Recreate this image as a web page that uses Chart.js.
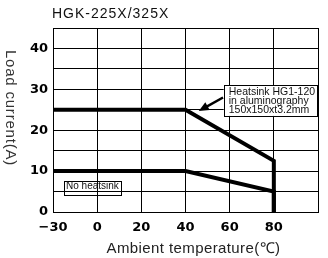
<!DOCTYPE html>
<html>
<head>
<meta charset="utf-8">
<script src="https://cdn.jsdelivr.net/npm/chart.js@4.4.0/dist/chart.umd.min.js"></script>
<style>
  html, body { margin: 0; padding: 0; background: #fff; }
  canvas { display: block; }
</style>
</head>
<body>
<canvas id="derating" width="328" height="258"></canvas>
<script>
// ── Data ──
// the left edge of the plot is labelled -30 on the original sheet, but sits one step (20) left of 0
const temps        = [-20, 40, 80, 80];
const curHeatsink  = [25, 25, 12.5, 0];
const curNoHeatsink = [10, 10, 5, 0];
const xTickLabels  = { '-20': '\u221230', '0': '0', '20': '20', '40': '40', '60': '60', '80': '80' };
const yTickLabels  = [0, 10, 20, 30, 40];

const title  = 'HGK-225X/325X';
const xTitle = 'Ambient temperature(\u2103)';
const yTitle = 'Load current(A)';
const heatsinkNote = ['Heatsink HG1-120', 'in aluminography', '150x150xt3.2mm'];
const noHeatsinkNote = 'No heatsink';

const toPoints = (xs, ys) => xs.map((x, i) => ({ x, y: ys[i] }));

// ── Text, notes and arrow ──
const decorations = {
  id: 'decorations',
  afterDraw(chart) {
    const { ctx, scales: { x, y }, chartArea: a } = chart;
    ctx.save();
    ctx.fillStyle = '#111';
    ctx.textBaseline = 'alphabetic';

    // title
    ctx.font = '14px "Liberation Sans", Arial, sans-serif';
    ctx.letterSpacing = '1px';
    ctx.textAlign = 'left';
    ctx.fillText(title, a.left - 1, 18);

    // x title
    ctx.font = '15px "Liberation Sans", Arial, sans-serif';
    ctx.letterSpacing = '0.4px';
    ctx.textAlign = 'center';
    ctx.fillStyle = '#222';
    ctx.fillText(xTitle, (a.left + a.right) / 2 + 8, 253);

    // y title, reading top to bottom
    ctx.save();
    ctx.translate(6, (a.top + a.bottom) / 2 - 12);
    ctx.rotate(Math.PI / 2);
    ctx.letterSpacing = '0.8px';
    ctx.fillStyle = '#333';
    ctx.fillText(yTitle, 0, 0);
    ctx.restore();
    ctx.letterSpacing = '0px';

    // heatsink note box
    const bx0 = x.getPixelForValue(57.3), bx1 = x.getPixelForValue(100) - 1;
    const by0 = y.getPixelForValue(31), by1 = y.getPixelForValue(23.5);
    ctx.fillStyle = '#fff';
    ctx.fillRect(bx0, by0, bx1 - bx0, by1 - by0);
    ctx.strokeStyle = '#000';
    ctx.lineWidth = 1;
    ctx.strokeRect(Math.round(bx0) + 0.5, Math.round(by0) + 0.5, Math.round(bx1 - bx0), Math.round(by1 - by0));
    ctx.fillStyle = '#111';
    ctx.font = '10.5px "Liberation Sans", Arial, sans-serif';
    ctx.textAlign = 'left';
    heatsinkNote.forEach((t, i) => ctx.fillText(t, bx0 + 5, by0 + 10 + i * 9));

    // arrow to the heatsink curve
    const ax0 = x.getPixelForValue(57), ay0 = y.getPixelForValue(28);
    const ax1 = x.getPixelForValue(46), ay1 = y.getPixelForValue(24.7);
    const ang = Math.atan2(ay1 - ay0, ax1 - ax0);
    ctx.strokeStyle = '#000';
    ctx.lineWidth = 2.5;
    ctx.beginPath();
    ctx.moveTo(ax0, ay0);
    ctx.lineTo(ax1 - 6 * Math.cos(ang), ay1 - 6 * Math.sin(ang));
    ctx.stroke();
    ctx.fillStyle = '#000';
    ctx.beginPath();
    ctx.moveTo(ax1, ay1);
    ctx.lineTo(ax1 - 10 * Math.cos(ang) + 4.5 * Math.sin(ang), ay1 - 10 * Math.sin(ang) - 4.5 * Math.cos(ang));
    ctx.lineTo(ax1 - 10 * Math.cos(ang) - 4.5 * Math.sin(ang), ay1 - 10 * Math.sin(ang) + 4.5 * Math.cos(ang));
    ctx.closePath();
    ctx.fill();

    // no heatsink note (open box)
    const nx0 = x.getPixelForValue(-15), nx1 = x.getPixelForValue(11);
    const ny0 = y.getPixelForValue(7.5), ny1 = y.getPixelForValue(4);
    ctx.lineWidth = 1;
    ctx.strokeRect(Math.round(nx0) + 0.5, Math.round(ny0) + 0.5, Math.round(nx1 - nx0), Math.round(ny1 - ny0));
    ctx.fillStyle = '#111';
    ctx.font = '10px "Liberation Sans", Arial, sans-serif';
    ctx.fillText(noHeatsinkNote, nx0 + 2, ny0 + 8);

    ctx.restore();
  }
};

const lineStyle = {
  borderColor: '#000',
  backgroundColor: '#000',
  borderWidth: 4,
  pointRadius: 0,
  tension: 0,
  fill: false,
  borderJoinStyle: 'miter',
};

const tickFont = { family: "'DejaVu Sans'", size: 13, weight: 'bold' };

new Chart(document.getElementById('derating'), {
  type: 'line',
  data: {
    datasets: [
      { label: 'Heatsink HG1-120', data: toPoints(temps, curHeatsink), ...lineStyle },
      { label: 'No heatsink', data: toPoints(temps, curNoHeatsink), ...lineStyle },
    ]
  },
  options: {
    responsive: false,
    animation: false,
    layout: { padding: { left: 0, right: 10, top: 28, bottom: 0 } },
    plugins: {
      legend: { display: false },
      tooltip: { enabled: false },
    },
    scales: {
      x: {
        type: 'linear',
        min: -20, max: 100,
        afterFit: s => { s.height = 46; },
        grid: { color: '#000', lineWidth: 1, drawTicks: false },
        border: { color: '#000', width: 1 },
        ticks: {
          stepSize: 20,
          padding: 8,
          color: '#000',
          maxRotation: 0,
          autoSkip: false,
          font: tickFont,
          callback: v => xTickLabels[String(v)] ?? '',
        }
      },
      y: {
        min: 0, max: 45,
        afterFit: s => { s.width = 53; },
        grid: { color: '#000', lineWidth: 1, drawTicks: false },
        border: { color: '#000', width: 1 },
        ticks: {
          stepSize: 5,
          padding: 5,
          color: '#000',
          autoSkip: false,
          font: tickFont,
          callback: v => yTickLabels.includes(v) ? String(v) : '',
        }
      }
    }
  },
  plugins: [decorations]
});
</script>
</body>
</html>
